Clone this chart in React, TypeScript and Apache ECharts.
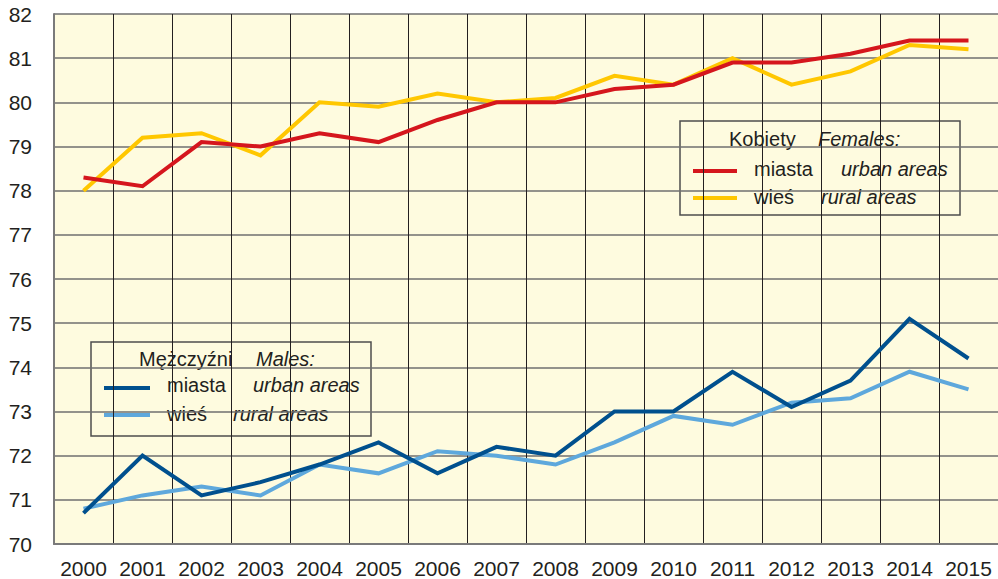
import React, { useEffect, useRef } from "react";
import * as echarts from "echarts";

const years = ["2000","2001","2002","2003","2004","2005","2006","2007","2008","2009","2010","2011","2012","2013","2014","2015"];
const femalesUrban = [78.3, 78.1, 79.1, 79.0, 79.3, 79.1, 79.6, 80.0, 80.0, 80.3, 80.4, 80.9, 80.9, 81.1, 81.4, 81.4];
const femalesRural = [78.0, 79.2, 79.3, 78.8, 80.0, 79.9, 80.2, 80.0, 80.1, 80.6, 80.4, 81.0, 80.4, 80.7, 81.3, 81.2];
const malesUrban = [70.7, 72.0, 71.1, 71.4, 71.8, 72.3, 71.6, 72.2, 72.0, 73.0, 73.0, 73.9, 73.1, 73.7, 75.1, 74.2];
const malesRural = [70.8, 71.1, 71.3, 71.1, 71.8, 71.6, 72.1, 72.0, 71.8, 72.3, 72.9, 72.7, 73.2, 73.3, 73.9, 73.5];

const RED = "#d5161d";
const YELLOW = "#ffc700";
const DARK_BLUE = "#00508e";
const LIGHT_BLUE = "#5ea8dc";
const BG = "#fefbdf";
const TEXT = "#231f20";
const FONT = "'Liberation Sans', Arial, sans-serif";

function legendBox(x: number, y: number, w: number, h: number, title: string, titleEn: string,
  titleX: number, titleEnX: number, titleY: number,
  rows: { color: string; pl: string; en: string; y: number; lineY: number; enX: number }[],
  lineX1: number, lineX2: number, plX: number) {
  const children: any[] = [
    { type: "rect", shape: { x, y, width: w, height: h }, style: { fill: BG, stroke: "#4d4d4d", lineWidth: 1.5 } },
    { type: "text", x: titleX, y: titleY, style: { text: title, fill: TEXT, font: `20px ${FONT}`, verticalAlign: "middle" } },
    { type: "text", x: titleEnX, y: titleY, style: { text: titleEn, fill: TEXT, font: `italic 20px ${FONT}`, verticalAlign: "middle" } },
  ];
  rows.forEach((r) => {
    children.push({ type: "line", shape: { x1: lineX1, y1: r.lineY, x2: lineX2, y2: r.lineY }, style: { stroke: r.color, lineWidth: 4 } });
    children.push({ type: "text", x: plX, y: r.y, style: { text: r.pl, fill: TEXT, font: `20px ${FONT}`, verticalAlign: "middle" } });
    children.push({ type: "text", x: r.enX, y: r.y, style: { text: r.en, fill: TEXT, font: `italic 20px ${FONT}`, verticalAlign: "middle" } });
  });
  return { type: "group", z: 100, children };
}

export default function App() {
  const ref = useRef<HTMLDivElement>(null);
  useEffect(() => {
    if (!ref.current) return;
    const chart = echarts.init(ref.current, undefined, { renderer: "svg" });
    const lineSeries = (name: string, data: number[], color: string) => ({
      name, type: "line", data, symbol: "none", smooth: false,
      lineStyle: { color, width: 4, join: "miter" }, z: 5,
    });
    chart.setOption({
      animation: false,
      backgroundColor: "#ffffff",
      textStyle: { fontFamily: FONT },
      grid: { left: 54, top: 14, right: 0, bottom: 35, show: true, backgroundColor: BG, borderWidth: 0 },
      xAxis: {
        type: "category", data: years, boundaryGap: true,
        axisLine: { show: true, lineStyle: { color: "#7a7a7a", width: 2 } },
        axisTick: { show: false },
        axisLabel: { color: TEXT, fontSize: 21, margin: 14, fontFamily: FONT, interval: 0 },
        splitLine: { show: true, interval: 0, lineStyle: { color: "#231f20", width: 1 } },
      },
      yAxis: {
        type: "value", min: 70, max: 82, interval: 1,
        axisLine: { show: true, lineStyle: { color: "#7a7a7a", width: 2 } },
        axisTick: { show: false },
        axisLabel: { color: TEXT, fontSize: 21, margin: 22, fontFamily: FONT },
        splitLine: { show: true, lineStyle: { color: "#6f6f6f", width: 1.5 } },
      },
      series: [
        lineSeries("femalesRural", femalesRural, YELLOW),
        lineSeries("femalesUrban", femalesUrban, RED),
        lineSeries("malesRural", malesRural, LIGHT_BLUE),
        lineSeries("malesUrban", malesUrban, DARK_BLUE),
      ],
      graphic: [
        legendBox(680, 121, 280, 94, "Kobiety", "Females:", 729, 818, 139, [
          { color: RED, pl: "miasta", en: "urban areas", y: 169, lineY: 171, enX: 841 },
          { color: YELLOW, pl: "wieś", en: "rural areas", y: 197, lineY: 198, enX: 821 },
        ], 693, 737, 754),
        legendBox(91, 342, 280, 94, "Mężczyźni", "Males:", 139, 256, 359, [
          { color: DARK_BLUE, pl: "miasta", en: "urban areas", y: 385, lineY: 388, enX: 253 },
          { color: LIGHT_BLUE, pl: "wieś", en: "rural areas", y: 414, lineY: 415, enX: 233 },
        ], 104, 150, 167),
      ],
    });
    return () => chart.dispose();
  }, []);
  return <div ref={ref} style={{ position: "fixed", left: 0, top: 0, width: 998, height: 579 }} />;
}
